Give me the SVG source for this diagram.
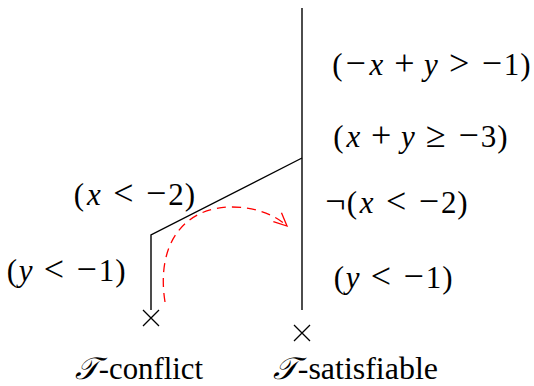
<svg xmlns="http://www.w3.org/2000/svg" width="534" height="386" viewBox="0 0 534 386">
<style>
text{font-family:'Liberation Serif','Times New Roman',serif;font-size:31px;fill:#000}
.m{text-anchor:middle}
.i{font-style:italic}
.o{font-size:36px}
.ln{stroke:#000;stroke-width:1.4;fill:none}
.cr{stroke:#000;stroke-width:1.3;fill:none}
.arc{stroke:#ff0000;stroke-width:1.3;fill:none;stroke-dasharray:9,6}
</style>
<defs>
<marker id="ah" markerUnits="userSpaceOnUse" markerWidth="20" markerHeight="20" refX="0" refY="0" viewBox="-14 -10 20 20" orient="auto">
<path d="M-13,-6 L0,0 L-13,6" stroke="#ff0000" stroke-width="1.3" fill="none"/>
</marker>
</defs>
<g id="connectors">
<path class="ln" d="M302,8 L302,310"/>
<path class="ln" d="M302,158 L151,235 L151,310"/>
<path class="arc" d="M165,302 C156,245 183,207 232,207 C256,207 275,215 287,226" marker-end="url(#ah)"/>
</g>
<g id="leaf-conflict">
<path class="cr" d="M143,310 L159,326 M159,310 L143,326"/>
<text x="75" y="379" textLength="128" lengthAdjust="spacingAndGlyphs"><tspan class="i">𝒯</tspan>-conflict</text>
</g>
<g id="leaf-satisfiable">
<path class="cr" d="M294,325 L310,341 M310,325 L294,341"/>
<text x="273" y="379" textLength="165" lengthAdjust="spacingAndGlyphs"><tspan class="i">𝒯</tspan>-satisfiable</text>
</g>
<g id="label-1">
<text class="m" y="75"><tspan x="337.5">(</tspan><tspan class="o" x="355.6">−</tspan><tspan class="i" x="376.5">x</tspan><tspan class="o" x="404.3">+</tspan><tspan class="i" x="430.9">y</tspan><tspan class="o" x="459.1">&gt;</tspan><tspan class="o" x="491.8">−</tspan><tspan x="511.6">1</tspan><tspan x="525.4">)</tspan></text>
</g>
<g id="label-2">
<text class="m" y="147"><tspan x="338.5">(</tspan><tspan class="i" x="353.4">x</tspan><tspan class="o" x="381.2">+</tspan><tspan class="i" x="407.8">y</tspan><tspan class="o" x="436">≥</tspan><tspan class="o" x="468.7">−</tspan><tspan x="488.5">3</tspan><tspan x="502.3">)</tspan></text>
</g>
<g id="label-3">
<text class="m" y="213"><tspan class="o" x="335.4">¬</tspan><tspan x="351.8">(</tspan><tspan class="i" x="366.7">x</tspan><tspan class="o" x="396.2">&lt;</tspan><tspan class="o" x="428.9">−</tspan><tspan x="448.7">2</tspan><tspan x="462.5">)</tspan></text>
</g>
<g id="label-4">
<text class="m" y="288"><tspan x="339">(</tspan><tspan class="i" x="352.7">y</tspan><tspan class="o" x="381">&lt;</tspan><tspan class="o" x="413.7">−</tspan><tspan x="433.5">1</tspan><tspan x="447.3">)</tspan></text>
</g>
<g id="label-5">
<text class="m" y="205"><tspan x="79">(</tspan><tspan class="i" x="94">x</tspan><tspan class="o" x="123.5">&lt;</tspan><tspan class="o" x="156.2">−</tspan><tspan x="176">2</tspan><tspan x="189.8">)</tspan></text>
</g>
<g id="label-6">
<text class="m" y="281"><tspan x="12">(</tspan><tspan class="i" x="25.7">y</tspan><tspan class="o" x="54">&lt;</tspan><tspan class="o" x="86.7">−</tspan><tspan x="106.5">1</tspan><tspan x="120.3">)</tspan></text>
</g>
</svg>
